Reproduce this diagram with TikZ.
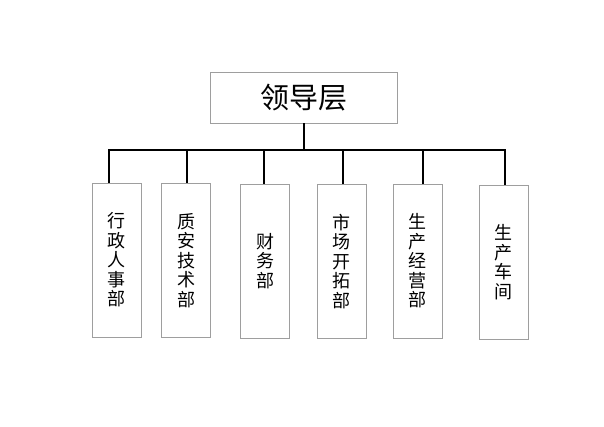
\documentclass[tikz,border=0pt]{standalone}
\usepackage{fontspec}
\newfontfamily\cjk{Noto Sans CJK SC}
\usetikzlibrary{positioning}
\definecolor{boxgray}{gray}{0.62}
\tikzset{
  lead/.style={draw=boxgray, line width=0.9pt, minimum width=187pt, minimum height=51pt, inner sep=0pt, font=\cjk\fontsize{29}{30}\selectfont},
  dept/.style={draw=boxgray, line width=0.9pt, minimum width=49pt, minimum height=154pt, inner sep=0pt, align=center, font=\cjk\fontsize{18}{19.5}\selectfont},
  link/.style={black, line width=1.7pt}
}
\begin{document}
\begin{tikzpicture}[x=1pt,y=-1pt]
\useasboundingbox (0,0) rectangle (604,427);
% top and departments
\node[lead] (lead) at (303.5,97.5) {领导层};
\node[dept] (d1) at (116.5,260) {行\\政\\人\\事\\部};
\node[dept] (d2) at (186,260.5) {质\\安\\技\\术\\部};
\node[dept] (d3) at (265,261) {财\\务\\部};
\node[dept] (d4) at (341.5,261.5) {市\\场\\开\\拓\\部};
\node[dept] (d5) at (417.5,261) {生\\产\\经\\营\\部};
\node[dept] (d6) at (503.5,262) {生\\产\\车\\间};
% bus
\coordinate (j0) at (304,150);
\coordinate (j1) at (109,150);
\coordinate (j2) at (187,150);
\coordinate (j3) at (264,150);
\coordinate (j4) at (343,150);
\coordinate (j5) at (423,150);
\coordinate (j6) at (505,150);
\draw[link] (j0 |- lead.south) -- (j0);
\draw[link] (j1 |- d1.north) -- (j1) -- (j6) -- (j6 |- d6.north);
\foreach \i in {2,...,5}
  \draw[link] (j\i) -- (j\i |- d\i.north);
\end{tikzpicture}
\end{document}
